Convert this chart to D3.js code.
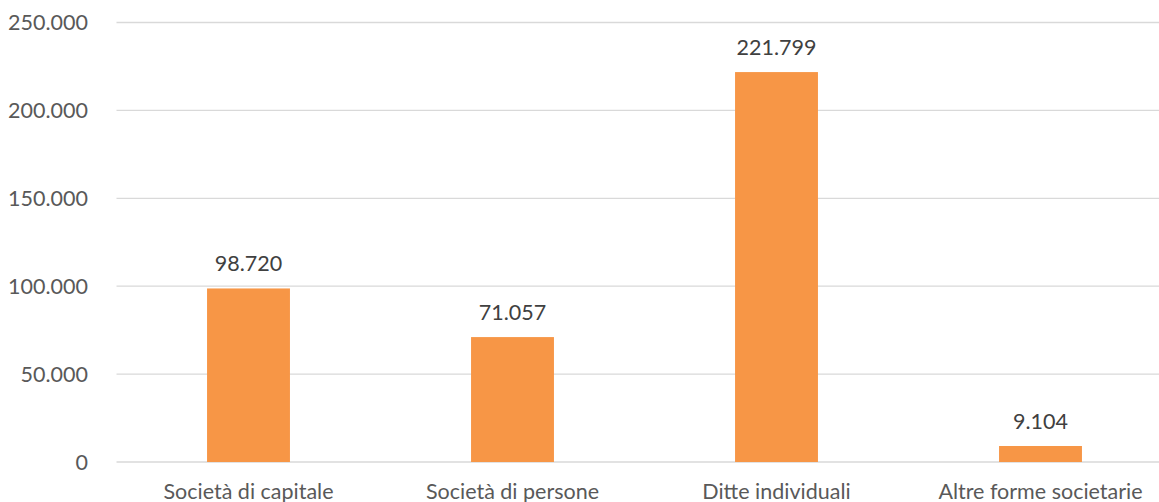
<!DOCTYPE html>
<html><head><meta charset="utf-8">
<script src="https://cdn.jsdelivr.net/npm/d3@7"></script>
<style>body{margin:0;background:#fff;}svg{display:block;font-family:Lato,"Open Sans","Liberation Sans",sans-serif;}</style>
</head><body>
<svg id="c" width="1159" height="502"></svg>
<script>
const categories = ["Società di capitale","Società di persone","Ditte individuali","Altre forme societarie"];
const values = [98720, 71057, 221799, 9104];
const yTicks = [0, 50000, 100000, 150000, 200000, 250000];

(function () {
const svg = d3.select("#c");
const pLeft = 116.5, pRight = 1172.5, pTop = 22.5, pBottom = 462;
const x = d3.scaleBand().domain(categories).range([pLeft, pRight]).paddingInner(0.686).paddingOuter(0.343);
const y = d3.scaleLinear().domain([0, 250000]).range([pBottom, pTop]);
const fmt = v => d3.format(",")(v).replace(/,/g, ".");
const fs = 21.5;

svg.append("g").selectAll("line").data(yTicks).join("line")
  .attr("x1", pLeft).attr("x2", pRight)
  .attr("y1", d => y(d)).attr("y2", d => y(d))
  .attr("stroke", "#d9d9d9").attr("stroke-width", 1.3);

svg.append("g").selectAll("text").data(yTicks).join("text")
  .attr("x", 88).attr("y", d => y(d)).attr("dy", "0.36em")
  .attr("text-anchor", "end").attr("fill", "#595959").attr("font-size", fs)
  .text(d => fmt(d));

svg.append("g").selectAll("rect").data(values).join("rect")
  .attr("x", (d, i) => x(categories[i])).attr("width", x.bandwidth())
  .attr("y", d => y(d)).attr("height", d => y(0) - y(d))
  .attr("fill", "#f79646");

svg.append("g").selectAll("text").data(values).join("text")
  .attr("x", (d, i) => x(categories[i]) + x.bandwidth() / 2)
  .attr("y", d => y(d) - 17)
  .attr("text-anchor", "middle").attr("fill", "#404040").attr("font-size", fs)
  .text(d => fmt(d));

svg.append("g").selectAll("text").data(categories).join("text")
  .attr("x", d => x(d) + x.bandwidth() / 2).attr("y", 499)
  .attr("text-anchor", "middle").attr("fill", "#595959").attr("font-size", fs)
  .text(d => d);
})();
</script>
</body></html>
